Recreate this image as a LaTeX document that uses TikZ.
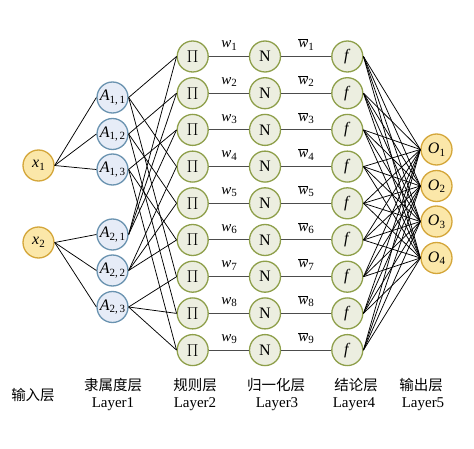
\documentclass[tikz,border=0pt]{standalone}
\usepackage{fontspec}
\setmainfont{Liberation Serif}
\newfontfamily\cjk{Noto Sans CJK SC}
\definecolor{yfill}{HTML}{FBE7A9}
\definecolor{ydraw}{HTML}{D4A63A}
\definecolor{bfill}{HTML}{E6ECF7}
\definecolor{bdraw}{HTML}{6A93B0}
\definecolor{gfill}{HTML}{ECEEE0}
\definecolor{gdraw}{HTML}{8E9F4A}
\newcommand{\wbar}[1]{$\overline{\mbox{\textit{w}}}$\textsubscript{#1}}
\newcommand{\sbs}[1]{\raisebox{-0.35ex}{\fontsize{11}{11}\selectfont #1}}
\begin{document}
\begin{tikzpicture}[x=1pt,y=-1pt,
  base/.style={circle, line width=1.3pt, minimum size=31pt, inner sep=0pt, font=\fontsize{16}{16}\selectfont},
  ionode/.style={base, draw=ydraw, fill=yfill},
  mfnode/.style={base, draw=bdraw, fill=bfill},
  rlnode/.style={base, draw=gdraw, fill=gfill},
  conn/.style={draw=black, line width=0.75pt},
  flat/.style={draw=black!70, line width=1pt},
  wlab/.style={font=\fontsize{15}{15}\selectfont, inner sep=0pt},
  cnlab/.style={font=\cjk\fontsize{14.5}{15}\selectfont, inner sep=0pt},
  lylab/.style={font=\fontsize{15}{15}\selectfont, inner sep=0pt}]
\useasboundingbox (0,0) rectangle (474,449);
% input nodes
\node[ionode] (x1) at (38.5,165.5) {\textit{x}\sbs{1}};
\node[ionode] (x2) at (38.5,242.5) {\textit{x}\sbs{2}};
% membership nodes
\foreach \j/\y in {1/97.5,2/134,3/169.5}
  \node[mfnode] (A1\j) at (112.5,\y) {\textit{A}\sbs{1,\,\j}};
\foreach \j/\y in {1/234.5,2/270.5,3/307}
  \node[mfnode] (A2\j) at (112.5,\y) {\textit{A}\sbs{2,\,\j}};
% rule, norm, consequent nodes
\foreach \k in {1,...,9}{
  \pgfmathsetmacro{\yy}{56.5+36.7*(\k-1)}
  \node[rlnode] (P\k) at (192.7,\yy) {$\Pi$};
  \node[rlnode] (N\k) at (265,\yy) {N};
  \node[rlnode] (F\k) at (347.3,\yy) {\textit{f}};
  \draw[flat] (P\k) -- (N\k);
  \draw[flat] (N\k) -- (F\k);
  \node[wlab] (wl\k) at (229,\yy-11) {\textit{w}\sbs{\k}};
  \node[wlab] (wb\k) at (306,\yy-12) {$\overline{\mbox{\textit{w}}}$\sbs{\k}};
}
% output nodes
\foreach \o/\y in {1/149.5,2/186,3/221.5,4/258}
  \node[ionode] (O\o) at (436.5,\y) {\textit{O}\sbs{\o}};
% input -> membership
\foreach \j in {1,2,3}{
  \draw[conn] (x1.east) -- (A1\j.west);
  \draw[conn] (x2.east) -- (A2\j.west);
}
% membership -> rules
\foreach \i in {1,2,3}{
  \foreach \m in {0,1,2}{
    \pgfmathtruncatemacro{\ka}{\i+3*\m}
    \pgfmathtruncatemacro{\kb}{3*(\i-1)+\m+1}
    \draw[conn] (A1\i.east) -- (P\ka.west);
    \draw[conn] (A2\i.east) -- (P\kb.west);
  }
}
% consequent -> outputs
\foreach \k in {1,...,9}
  \foreach \o in {1,...,4}
    \draw[conn] (F\k.east) -- (O\o.west);
% bottom labels
\node[cnlab] (t0) at (33,395) {输入层};
\node[cnlab] (t1) at (113,385) {隶属度层};
\node[lylab] (l1) at (113,404) {Layer1};
\node[cnlab] (t2) at (195,385) {规则层};
\node[lylab] (l2) at (195,404) {Layer2};
\node[cnlab] (t3) at (276,385) {归一化层};
\node[lylab] (l3) at (277,404) {Layer3};
\node[cnlab] (t4) at (356,385) {结论层};
\node[lylab] (l4) at (354,404) {Layer4};
\node[cnlab] (t5) at (421,385) {输出层};
\node[lylab] (l5) at (423,404) {Layer5};
\end{tikzpicture}
\end{document}
